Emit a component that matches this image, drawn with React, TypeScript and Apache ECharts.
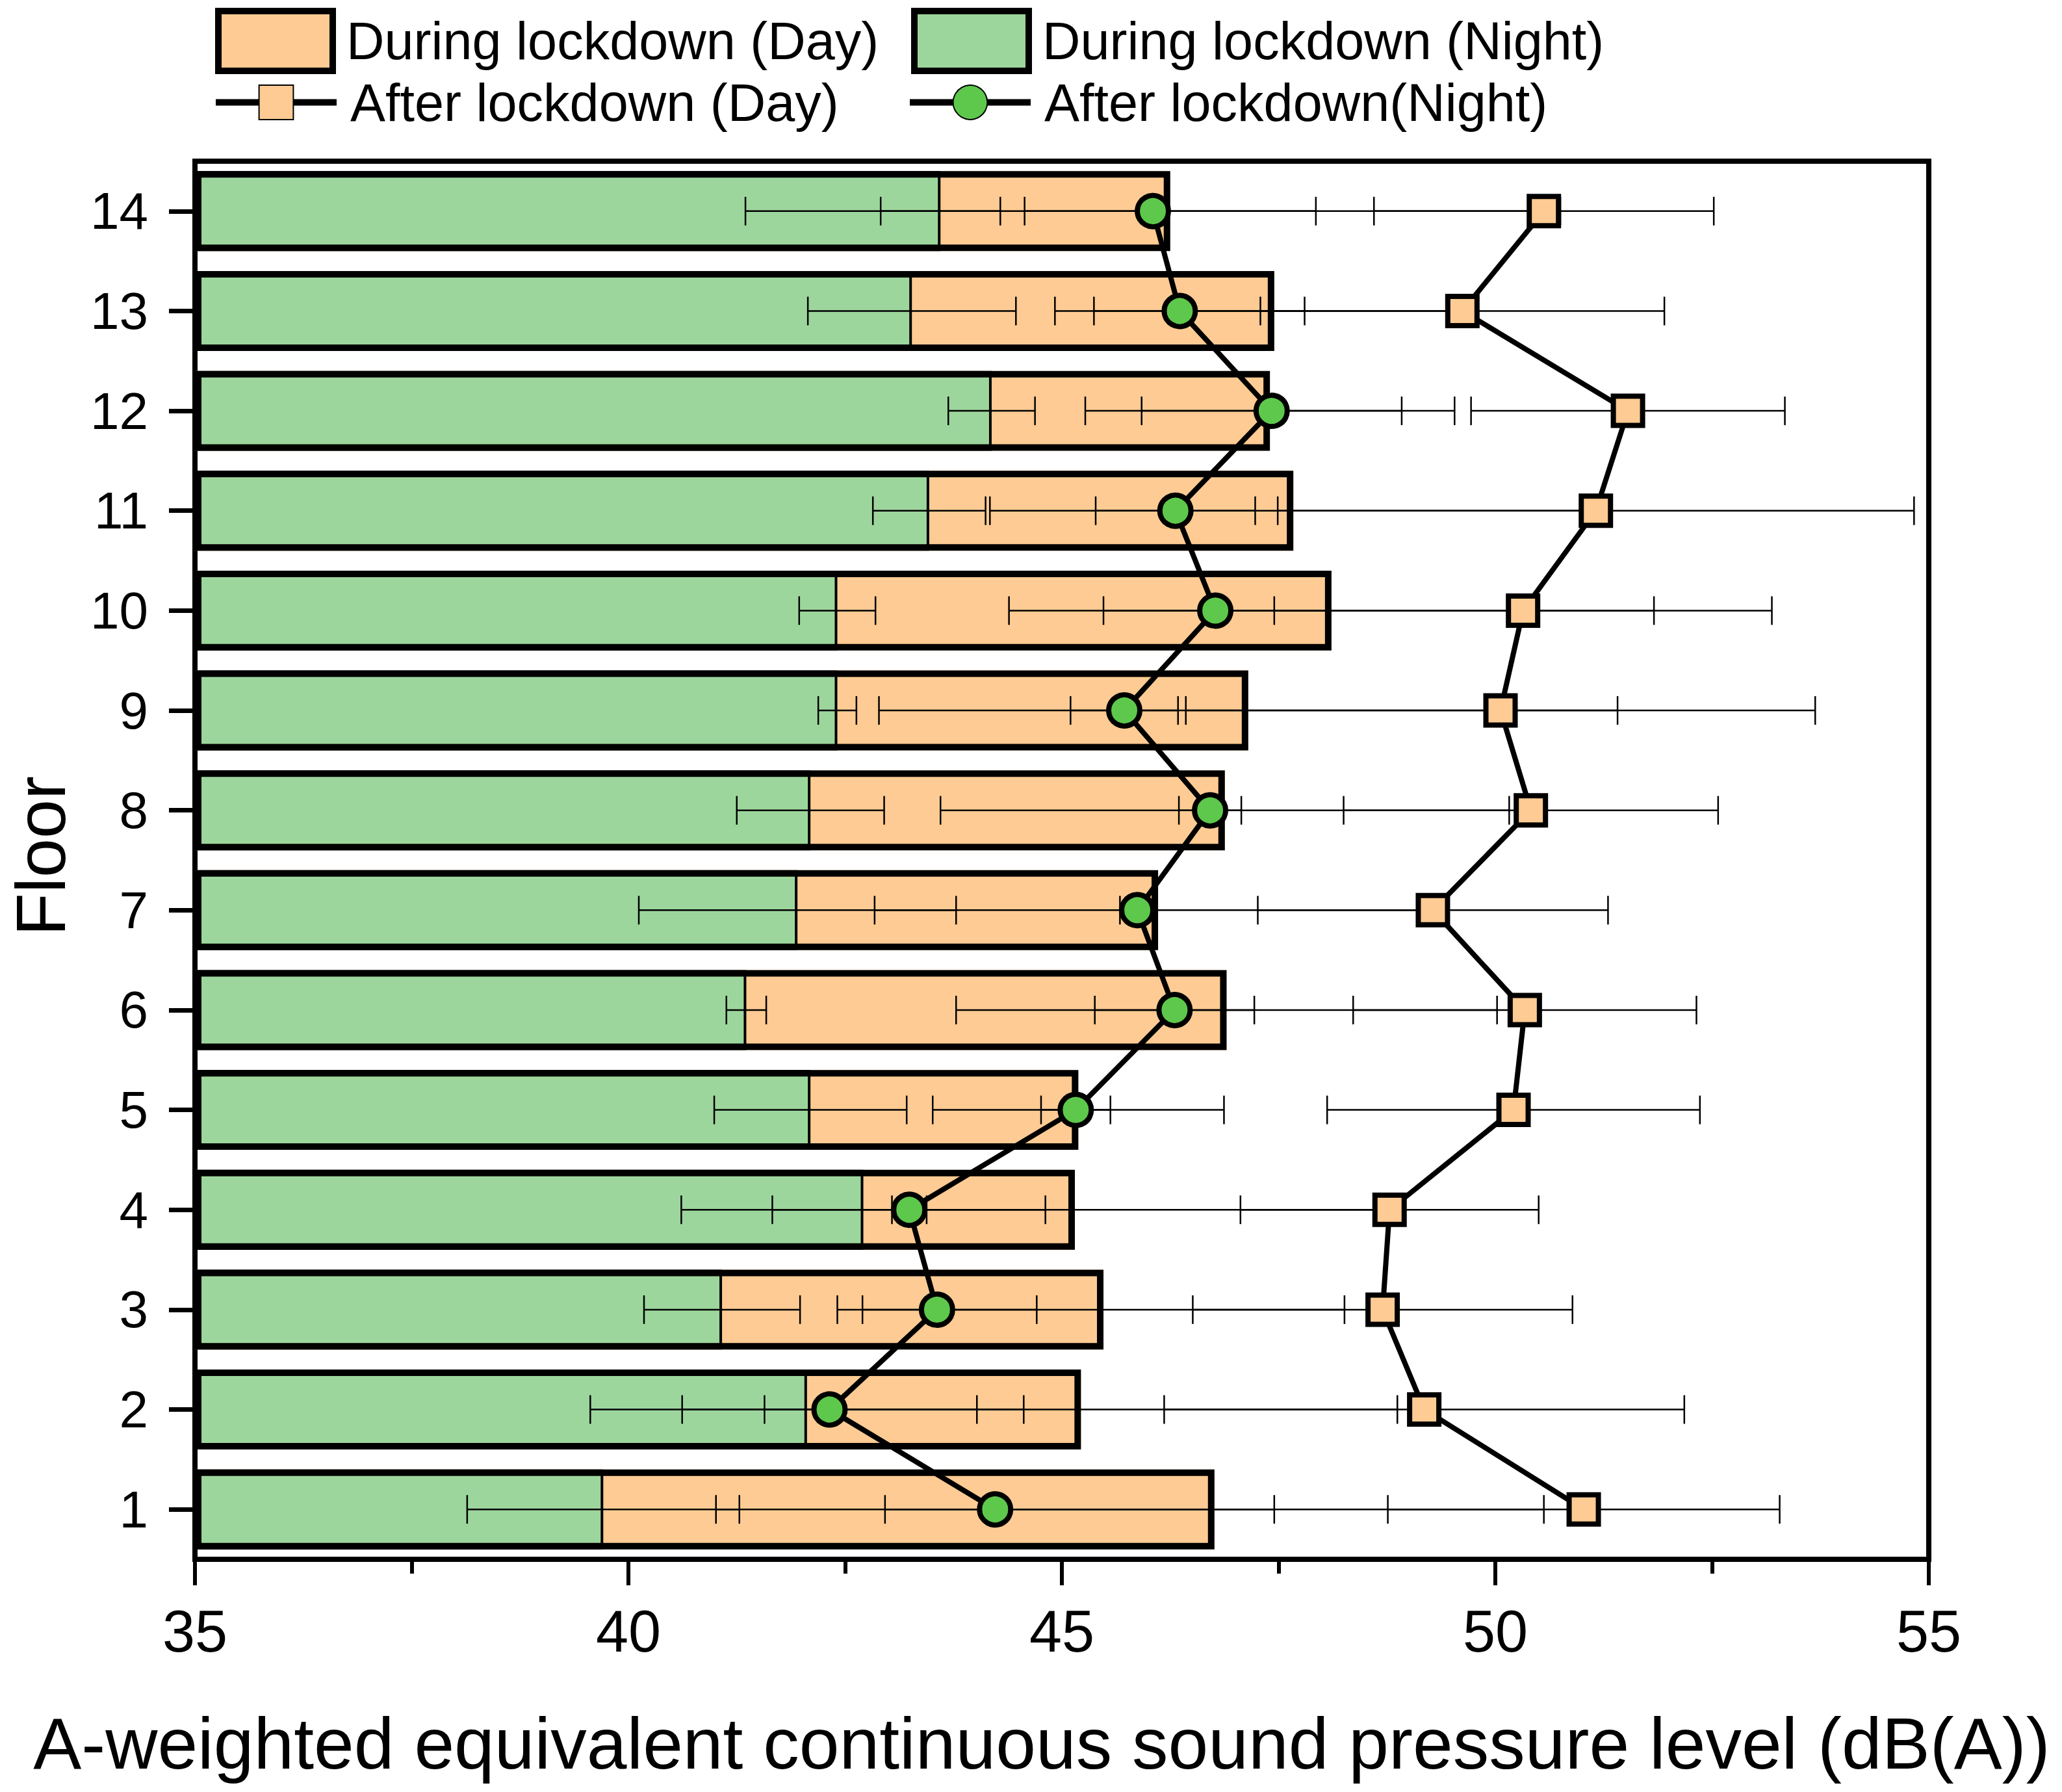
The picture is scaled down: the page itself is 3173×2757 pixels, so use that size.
import React, { useEffect, useRef } from "react";
import * as echarts from "echarts";

const floors = ["1", "2", "3", "4", "5", "6", "7", "8", "9", "10", "11", "12", "13", "14"];
const dayDuring = [46.76, 45.22, 45.48, 45.15, 45.19, 46.9, 46.11, 46.88, 47.15, 48.11, 47.67, 47.4, 47.45, 46.25];
const dayDuringErr = [3.8, 3.65, 2.78, 3.49, 1.68, 3.12, 3.27, 3.28, 4.26, 3.72, 3.5, 2.13, 2.08, 1.68];
const nightDuring = [39.71, 42.06, 41.08, 42.71, 42.1, 41.36, 41.95, 42.1, 42.41, 42.41, 43.47, 44.19, 43.27, 43.6];
const nightDuringErr = [1.57, 2.5, 0.9, 2.1, 1.11, 0.23, 1.83, 0.85, 0.22, 0.44, 0.65, 0.5, 1.2, 0.69];
const dayAfter = [51.02, 49.18, 48.7, 48.78, 50.21, 50.34, 49.28, 50.41, 50.06, 50.32, 51.16, 51.53, 49.62, 50.56];
const dayAfterErr = [2.26, 3.0, 2.19, 1.72, 2.15, 1.98, 2.02, 2.16, 3.63, 2.87, 3.67, 1.81, 2.33, 1.96];
const nightAfter = [44.23, 42.32, 43.56, 43.24, 45.16, 46.3, 45.87, 46.71, 45.72, 46.77, 46.31, 47.42, 46.36, 46.05];
const nightAfterErr = [3.22, 1.7, 1.15, 0.2, 0.4, 0.92, 0.2, 0.36, 0.62, 1.29, 0.92, 1.5, 1.44, 4.7];
const xTicks = { min: 35, max: 55, interval: 5 };

const FONT = "'Liberation Sans', Arial, sans-serif";
const ORANGE = "#FDCB93";
const GREEN = "#9DD69C";
const GREEN_DOT = "#5EC84C";

function errData(mean: number[], err: number[]) {
  return mean.map((m, i) => [m - err[i], m + err[i], i]);
}

const renderErr = (params: any, api: any) => {
  const lo = api.value(0);
  const hi = api.value(1);
  const idx = api.value(2);
  const p1 = api.coord([lo, idx]);
  const p2 = api.coord([hi, idx]);
  const h = 22;
  const style = { stroke: "#000", lineWidth: 2.5, fill: "none" };
  return {
    type: "group",
    children: [
      { type: "line", shape: { x1: p1[0], y1: p1[1], x2: p2[0], y2: p2[1] }, style },
      { type: "line", shape: { x1: p1[0], y1: p1[1] - h, x2: p1[0], y2: p1[1] + h }, style },
      { type: "line", shape: { x1: p2[0], y1: p2[1] - h, x2: p2[0], y2: p2[1] + h }, style },
    ],
  };
};

function errSeries(mean: number[], err: number[]) {
  return {
    type: "custom",
    renderItem: renderErr,
    data: errData(mean, err),
    encode: { x: [0, 1], y: 2 },
    z: 3,
    silent: true,
  };
}

export default function App() {
  const ref = useRef<HTMLDivElement>(null);
  useEffect(() => {
    document.body.style.margin = "0";
    const chart = echarts.init(ref.current!, null, { renderer: "svg" });
    const legendText = { fontSize: 81, color: "#000", fontFamily: FONT, padding: [0, 0, 0, 16] };
    const option: any = {
      animation: false,
      backgroundColor: "#fff",
      grid: {
        left: 300,
        right: 205,
        top: 248,
        bottom: 358,
        show: true,
        borderColor: "#000",
        borderWidth: 8,
        backgroundColor: "transparent",
      },
      legend: [
        {
          data: ["During lockdown (Day)"],
          left: 326,
          top: 7,
          icon: "rect",
          itemWidth: 176,
          itemHeight: 92,
          itemStyle: { borderColor: "#000", borderWidth: 10, color: ORANGE },
          textStyle: legendText,
          selectedMode: false,
        },
        {
          data: ["During lockdown (Night)"],
          left: 1397,
          top: 7,
          icon: "rect",
          itemWidth: 176,
          itemHeight: 92,
          itemStyle: { borderColor: "#000", borderWidth: 10, color: GREEN },
          textStyle: legendText,
          selectedMode: false,
        },
        {
          data: ["After lockdown (Day)"],
          left: 322,
          top: 112,
          itemWidth: 186,
          itemHeight: 66,
          lineStyle: { width: 10, color: "#000" },
          textStyle: legendText,
          selectedMode: false,
        },
        {
          data: ["After lockdown(Night)"],
          left: 1390,
          top: 112,
          itemWidth: 186,
          itemHeight: 66,
          lineStyle: { width: 10, color: "#000" },
          textStyle: legendText,
          selectedMode: false,
        },
      ],
      xAxis: {
        type: "value",
        min: xTicks.min,
        max: xTicks.max,
        interval: xTicks.interval,
        startValue: xTicks.min,
        axisLine: { show: true, lineStyle: { color: "#000", width: 8 } },
        axisTick: { show: true, length: 40, lineStyle: { color: "#000", width: 6 } },
        minorTick: { show: true, splitNumber: 2, length: 22, lineStyle: { color: "#000", width: 6 } },
        splitLine: { show: false },
        minorSplitLine: { show: false },
        axisLabel: { fontSize: 90, color: "#000", fontFamily: FONT, margin: 66 },
      },
      yAxis: {
        type: "category",
        data: floors,
        axisLine: { show: true, lineStyle: { color: "#000", width: 8 } },
        axisTick: { show: true, alignWithLabel: true, length: 40, lineStyle: { color: "#000", width: 7 } },
        splitLine: { show: false },
        axisLabel: { fontSize: 80, color: "#000", fontFamily: FONT, margin: 72 },
      },
      graphic: [
        {
          type: "text",
          x: 1603,
          y: 2683,
          style: {
            text: "A-weighted equivalent continuous sound pressure level (dB(A))",
            font: `111px ${FONT}`,
            fill: "#000",
            align: "center",
            verticalAlign: "middle",
          },
        },
        {
          type: "text",
          x: 62,
          y: 1317,
          rotation: Math.PI / 2,
          style: {
            text: "Floor",
            font: `108px ${FONT}`,
            fill: "#000",
            align: "center",
            verticalAlign: "middle",
          },
        },
      ],
      series: [
        {
          name: "During lockdown (Day)",
          type: "bar",
          data: dayDuring,
          barWidth: "80%",
          barGap: "-100%",
          itemStyle: { color: ORANGE, borderWidth: 0 },
          z: 2,
        },
        {
          name: "During lockdown (Night)",
          type: "bar",
          data: nightDuring,
          barWidth: "80%",
          barGap: "-100%",
          itemStyle: { color: GREEN, borderColor: "#000", borderWidth: 4 },
          z: 2,
        },
        {
          name: "outline",
          type: "bar",
          data: dayDuring,
          barWidth: "80%",
          barGap: "-100%",
          itemStyle: { color: "rgba(0,0,0,0)", borderColor: "#000", borderWidth: 10 },
          silent: true,
          z: 2,
        },
        errSeries(dayDuring, dayDuringErr),
        errSeries(nightDuring, nightDuringErr),
        errSeries(dayAfter, dayAfterErr),
        errSeries(nightAfter, nightAfterErr),
        {
          name: "After lockdown (Day)",
          type: "line",
          data: dayAfter.map((v, i) => [v, floors[i]]),
          symbol: "rect",
          symbolSize: 45,
          lineStyle: { color: "#000", width: 8 },
          itemStyle: { color: ORANGE, borderColor: "#000", borderWidth: 8 },
          z: 4,
        },
        {
          name: "After lockdown(Night)",
          type: "line",
          data: nightAfter.map((v, i) => [v, floors[i]]),
          symbol: "circle",
          symbolSize: 48,
          lineStyle: { color: "#000", width: 8 },
          itemStyle: { color: GREEN_DOT, borderColor: "#000", borderWidth: 8 },
          z: 4,
        },
      ],
    };
    chart.setOption(option);
    return () => chart.dispose();
  }, []);
  return <div ref={ref} style={{ width: 3173, height: 2757 }} />;
}
